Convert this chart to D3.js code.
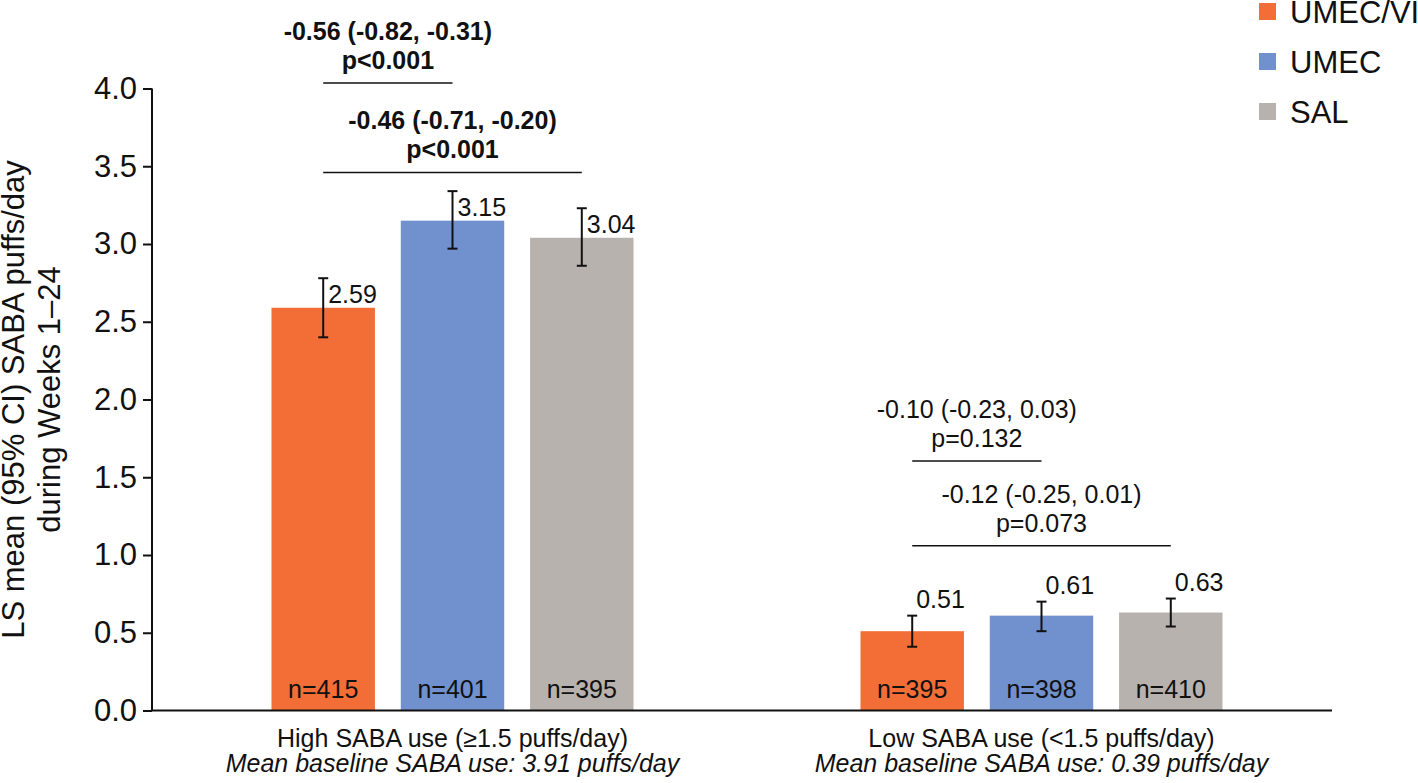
<!DOCTYPE html>
<html>
<head>
<meta charset="utf-8">
<script src="https://cdn.jsdelivr.net/npm/d3@7"></script>
<style>
  html, body { margin: 0; padding: 0; background: #fff; }
  svg { display: block; font-family: "Liberation Sans", Arial, Helvetica, sans-serif; }
</style>
</head>
<body>
<svg id="chart" width="1418" height="783"></svg>
<script>
// ---------- data ----------
const groups = ["High SABA use (\u22651.5 puffs/day)", "Low SABA use (<1.5 puffs/day)"];
const baselineNotes = ["Mean baseline SABA use: 3.91 puffs/day", "Mean baseline SABA use: 0.39 puffs/day"];
const series = ["UMEC/VI", "UMEC", "SAL"];
const colors = ["#F36D36", "#7090CE", "#B7B2AD"];

const meansHigh = [2.59, 3.15, 3.04];
const ciLowHigh = [2.40, 2.97, 2.86];
const ciHighHigh = [2.78, 3.34, 3.23];
const nHigh = [415, 401, 395];

const meansLow = [0.51, 0.61, 0.63];
const ciLowLow = [0.41, 0.51, 0.54];
const ciHighLow = [0.61, 0.70, 0.72];
const nLow = [395, 398, 410];

const yTicks = [0, 0.5, 1.0, 1.5, 2.0, 2.5, 3.0, 3.5, 4.0];

// comparisons: group index, from series, to series, texts, bracket level (in y units), bold
const compGroup = [0, 0, 1, 1];
const compFrom = ["UMEC/VI", "UMEC/VI", "UMEC/VI", "UMEC/VI"];
const compTo = ["UMEC", "SAL", "UMEC", "SAL"];
const compLine1 = ["-0.56 (-0.82, -0.31)", "-0.46 (-0.71, -0.20)", "-0.10 (-0.23, 0.03)", "-0.12 (-0.25, 0.01)"];
const compLine2 = ["p<0.001", "p<0.001", "p=0.132", "p=0.073"];
const compLevel = [4.035, 3.46, 1.605, 1.06];
const compBold = [true, true, false, false];

// ---------- build table ----------
const data = [];
groups.forEach((g, gi) => {
  const m = gi === 0 ? meansHigh : meansLow;
  const lo = gi === 0 ? ciLowHigh : ciLowLow;
  const hi = gi === 0 ? ciHighHigh : ciHighLow;
  const n = gi === 0 ? nHigh : nLow;
  series.forEach((s, si) => {
    data.push({ group: g, gi, series: s, si, mean: m[si], lo: lo[si], hi: hi[si], n: n[si] });
  });
});

// ---------- layout ----------
const svg = d3.select("#chart");
const axisX0 = 152, axisX1 = 1332;

const y = d3.scaleLinear().domain([0, 4]).range([710.5, 88.5]);
const x0 = d3.scaleBand().domain(groups).range([158, 1336]).paddingInner(0).paddingOuter(0);
const span = 362;
const x1 = d3.scaleBand().domain(series).range([-span / 2, span / 2]).paddingInner(0.2).paddingOuter(0);
const gc = g => x0(g) + x0.bandwidth() / 2;
const barCenter = d => gc(d.group) + x1(d.series) + x1.bandwidth() / 2;
const color = d3.scaleOrdinal().domain(series).range(colors);

// bars
svg.append("g").selectAll("rect").data(data).join("rect")
  .attr("x", d => gc(d.group) + x1(d.series))
  .attr("y", d => y(d.mean))
  .attr("width", x1.bandwidth())
  .attr("height", d => y(0) - y(d.mean))
  .attr("fill", d => color(d.series));

// n labels
svg.append("g").selectAll("text").data(data).join("text")
  .attr("x", d => barCenter(d))
  .attr("y", 698)
  .attr("text-anchor", "middle")
  .attr("font-size", 25)
  .attr("fill", "#111")
  .text(d => "n=" + d.n);

// error bars
const eb = svg.append("g").attr("stroke", "#111").attr("stroke-width", 2).attr("fill", "none");
data.forEach(d => {
  const cx = barCenter(d);
  eb.append("line").attr("x1", cx).attr("x2", cx).attr("y1", y(d.lo)).attr("y2", y(d.hi));
  eb.append("line").attr("x1", cx - 5).attr("x2", cx + 5).attr("y1", y(d.lo)).attr("y2", y(d.lo));
  eb.append("line").attr("x1", cx - 5).attr("x2", cx + 5).attr("y1", y(d.hi)).attr("y2", y(d.hi));
});

// value labels
svg.append("g").selectAll("text").data(data).join("text")
  .attr("x", d => d.gi === 0 ? barCenter(d) + 5 : barCenter(d) + 4)
  .attr("y", d => d.gi === 0 ? y(d.mean) - 5 : y(d.hi) - 8)
  .attr("font-size", 25)
  .attr("fill", "#111")
  .text(d => d.mean.toFixed(2));

// y axis
const yAxis = d3.axisLeft(y).tickValues(yTicks).tickFormat(d3.format(".1f")).tickSize(9).tickPadding(6);
const ya = svg.append("g").attr("transform", `translate(${axisX0},0)`).call(yAxis);
ya.select(".domain").remove();
ya.selectAll(".tick line").attr("stroke", "#111").attr("stroke-width", 2);
ya.selectAll(".tick text").attr("font-size", 31).attr("fill", "#111")
  .attr("font-family", "Liberation Sans, Arial, sans-serif");
svg.append("line").attr("x1", axisX0).attr("x2", axisX0).attr("y1", y(4)).attr("y2", y(0))
  .attr("stroke", "#111").attr("stroke-width", 2);
// x axis baseline
svg.append("line").attr("x1", axisX0).attr("x2", axisX1).attr("y1", y(0)).attr("y2", y(0))
  .attr("stroke", "#111").attr("stroke-width", 2);

// y title
const yt = svg.append("text")
  .attr("transform", `translate(0,${(y(0) + y(4)) / 2}) rotate(-90)`)
  .attr("text-anchor", "middle")
  .attr("font-size", 31)
  .attr("fill", "#111");
yt.append("tspan").attr("x", 0).attr("y", 24).text("LS mean (95% CI) SABA puffs/day");
yt.append("tspan").attr("x", 0).attr("y", 60).text("during Weeks 1\u201324");

// group labels
groups.forEach((g, gi) => {
  svg.append("text").attr("x", gc(g)).attr("y", 747).attr("text-anchor", "middle")
    .attr("font-size", 25).attr("fill", "#111").text(g);
  svg.append("text").attr("x", gc(g)).attr("y", 772).attr("text-anchor", "middle")
    .attr("font-size", 25).attr("font-style", "italic").attr("fill", "#111").text(baselineNotes[gi]);
});

// comparison brackets
compGroup.forEach((gi, i) => {
  const g = groups[gi];
  const xa = gc(g) + x1(compFrom[i]) + x1.bandwidth() / 2;
  const xb = gc(g) + x1(compTo[i]) + x1.bandwidth() / 2;
  const yl = y(compLevel[i]);
  svg.append("line").attr("x1", xa).attr("x2", xb).attr("y1", yl).attr("y2", yl)
    .attr("stroke", "#111").attr("stroke-width", 1.5);
  const cx = (xa + xb) / 2;
  svg.append("text").attr("x", cx).attr("y", yl - 14).attr("text-anchor", "middle")
    .attr("font-size", 25).attr("font-weight", compBold[i] ? "bold" : "normal").attr("fill", "#111")
    .text(compLine2[i]);
  svg.append("text").attr("x", cx).attr("y", yl - 43).attr("text-anchor", "middle")
    .attr("font-size", 25).attr("font-weight", compBold[i] ? "bold" : "normal").attr("fill", "#111")
    .text(compLine1[i]);
});

// legend
const lg = svg.append("g");
series.forEach((s, i) => {
  lg.append("rect").attr("x", 1259).attr("y", 3 + i * 50).attr("width", 17).attr("height", 17)
    .attr("fill", color(s));
  lg.append("text").attr("x", 1290).attr("y", 23 + i * 50).attr("font-size", 31).attr("fill", "#111").text(s);
});
</script>
</body>
</html>
